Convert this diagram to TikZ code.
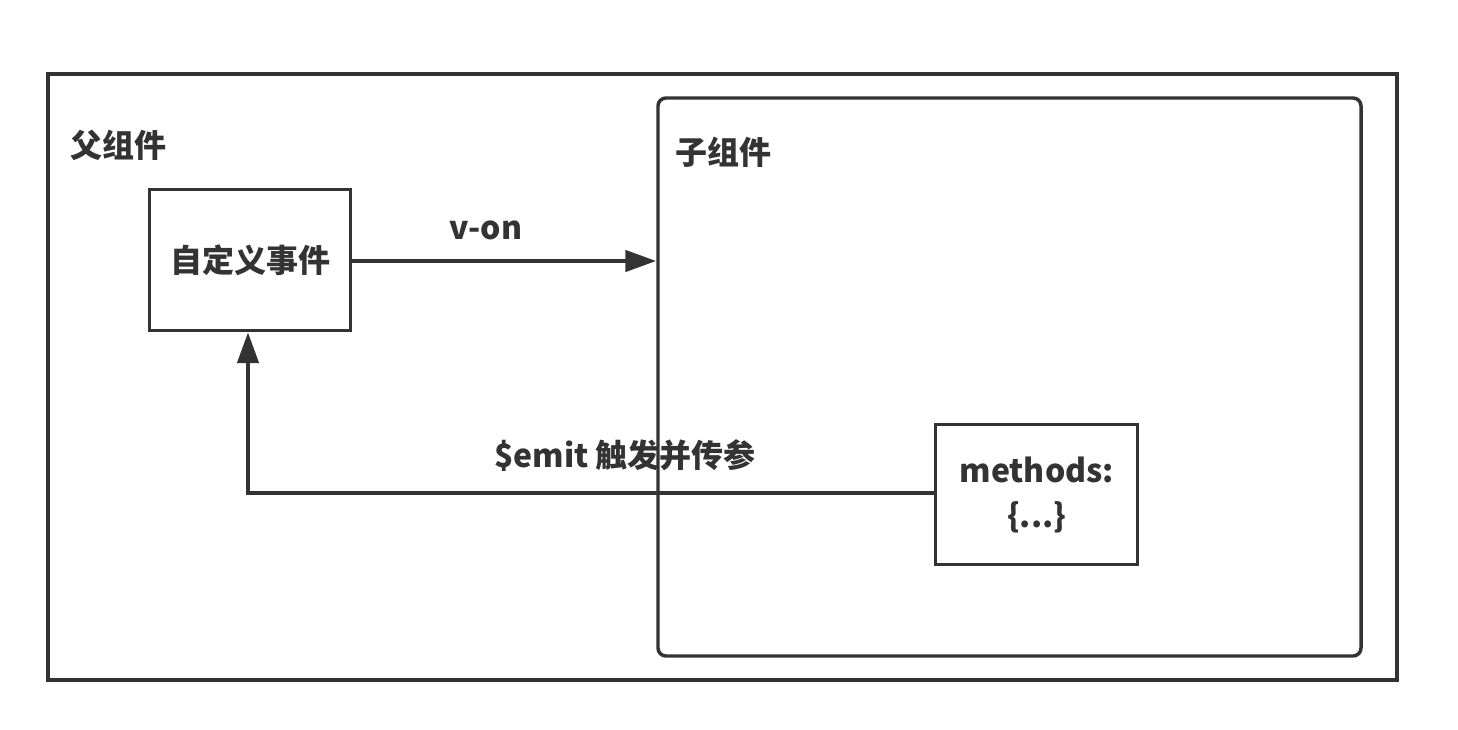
\documentclass[tikz,border=0pt]{standalone}
\usepackage{fontspec}
\setmainfont{Noto Sans CJK SC}
\usetikzlibrary{arrows.meta}
\definecolor{ink}{HTML}{333333}
\tikzset{
  frame/.style={draw=ink, line width=2.6pt},
  box/.style={draw=ink, line width=2.6pt, inner sep=0pt, anchor=north west},
  lbl/.style={text=ink, font=\fontsize{24}{28}\selectfont\bfseries, inner sep=0pt},
  conn/.style={draw=ink, line width=2.6pt, -{Triangle[length=23pt,width=16pt]}},
}
\begin{document}
\begin{tikzpicture}[x=0.75pt,y=-0.75pt]
\useasboundingbox (0,0) rectangle (1458,729);
\fill[white] (0,0) rectangle (1458,729);
% outer parent frame
\draw[frame] (48,74) rectangle (1397,680);
% child frame
\draw[frame, rounded corners=6pt] (658,98) rectangle (1361,656);
% boxes
\node[box, minimum width=150.75pt, minimum height=105.75pt] (evt) at (148,188) {};
\node[lbl] at (evt.center) {自定义事件};
\node[box, minimum width=151.5pt, minimum height=105pt] (meth) at (934,423) {};
\node[lbl, align=center, font=\fontsize{24}{34}\selectfont\bfseries] at (meth.center) {methods:\\\{...\}};
% labels
\node[lbl] (plbl) at (118,145) {父组件};
\node[lbl] (clbl) at (723,152) {子组件};
\node[lbl] (von) at (486,230) {v-on};
\node[lbl] (emit) at (625,456) {\$emit 触发并传参};
% connectors
\coordinate (childL) at (656,261);
\coordinate (bend) at (248,493);
\draw[conn] (evt.east |- childL) -- (childL);
\draw[conn] (meth.west |- bend) -- (bend) -- (evt.south -| bend);
\end{tikzpicture}
\end{document}
